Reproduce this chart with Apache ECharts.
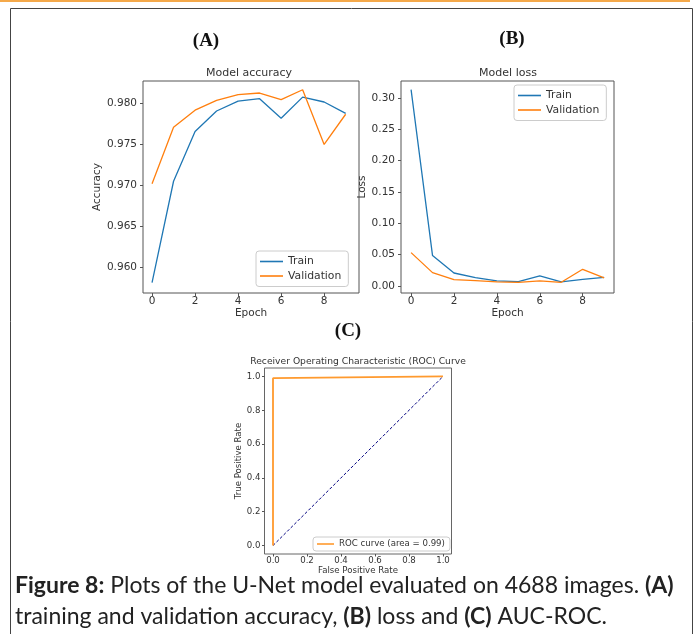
<!DOCTYPE html>
<html>
<head>
<meta charset="utf-8">
<title>U-Net model plots</title>
<script src="https://cdn.jsdelivr.net/npm/echarts@6/dist/echarts.min.js"></script>
<style>
    html, body { margin: 0; padding: 0; background: #fff; }
    #main { width: 697px; height: 634px; }
</style>
</head>
<body>
<div id="main"></div>
<script>
    // values
    var epochs = [0, 1, 2, 3, 4, 5, 6, 7, 8, 9];
    var accTrain = [0.9581, 0.9705, 0.9766, 0.9791, 0.9803, 0.9806, 0.9782, 0.9808, 0.9802, 0.9788];
    var accVal = [0.9702, 0.9771, 0.9792, 0.9804, 0.9811, 0.9813, 0.9805, 0.9817, 0.9750, 0.9787];
    var lossTrain = [0.3133, 0.0485, 0.0207, 0.0133, 0.0080, 0.0069, 0.0160, 0.0064, 0.0106, 0.0138];
    var lossVal = [0.0532, 0.0213, 0.0101, 0.0085, 0.0064, 0.0059, 0.0080, 0.0059, 0.0266, 0.0128];
    var rocFpr = [0, 0, 1];
    var rocTpr = [0, 0.99, 1];
    var chanceFpr = [0, 1];
    var chanceTpr = [0, 1];

    var epochTicks = [0, 2, 4, 6, 8];
    var accTicks = [0.960, 0.965, 0.970, 0.975, 0.980];
    var lossTicks = [0, 0.05, 0.10, 0.15, 0.20, 0.25, 0.30];
    var rateTicks = [0, 0.2, 0.4, 0.6, 0.8, 1.0];

    function pairs(xs, ys) {
        return xs.map(function (x, i) { return [x, ys[i]]; });
    }

    var FONT = 'DejaVu Sans';
    var TXT = '#333';
    var BLUE = '#1f77b4';
    var ORANGE = '#ff7f0e';
    var ROC = '#ff9a2e';

    function axis(opt) {
        return {
            type: 'value',
            gridIndex: opt.grid,
            min: opt.min,
            max: opt.max,
            name: opt.name,
            nameLocation: 'middle',
            nameGap: opt.nameGap,
            nameTextStyle: { fontFamily: FONT, fontSize: opt.fs, color: TXT },
            axisLine: { show: false, onZero: false },
            axisTick: { show: true, customValues: opt.ticks, length: opt.tickLen, lineStyle: { color: '#555', width: 1 } },
            axisLabel: {
                customValues: opt.ticks,
                margin: opt.margin,
                fontFamily: FONT,
                fontSize: opt.fs,
                color: TXT,
                formatter: function (v) { return v.toFixed(opt.dec); }
            },
            splitLine: { show: false }
        };
    }

    function legendBox(names, left, top, fs, pad, gap, w) {
        return {
            data: names.map(function (n) { return { name: n, icon: 'rect' }; }),
            left: left, top: top, orient: 'vertical',
            padding: pad, itemWidth: w, itemHeight: 1.6, itemGap: gap,
            backgroundColor: 'rgba(255,255,255,0.8)', borderColor: '#ccc', borderWidth: 1, borderRadius: 3,
            textStyle: { fontFamily: FONT, fontSize: fs, color: TXT }
        };
    }

    var myChart = echarts.init(document.getElementById('main'), null, { renderer: 'canvas' });

    var option = {
        animation: false,
        backgroundColor: '#fff',
        grid: [
            { left: 143, top: 81, width: 216, height: 212, show: true, borderColor: '#555', borderWidth: 1, outerBoundsMode: 'none' },
            { left: 401, top: 81, width: 213, height: 212, show: true, borderColor: '#555', borderWidth: 1, outerBoundsMode: 'none' },
            { left: 264.5, top: 368, width: 187, height: 186, show: true, borderColor: '#666', borderWidth: 1, outerBoundsMode: 'none' }
        ],
        xAxis: [
            axis({ grid: 0, min: -0.42, max: 9.62, ticks: epochTicks, dec: 0, name: 'Epoch', nameGap: 15, fs: 10.5, tickLen: 3, margin: 3 }),
            axis({ grid: 1, min: -0.47, max: 9.46, ticks: epochTicks, dec: 0, name: 'Epoch', nameGap: 15, fs: 10.5, tickLen: 3, margin: 3 }),
            axis({ grid: 2, min: -0.05, max: 1.05, ticks: rateTicks, dec: 1, name: 'False Positive Rate', nameGap: 12, fs: 8.6, tickLen: 2.5, margin: 2 })
        ],
        yAxis: [
            axis({ grid: 0, min: 0.95682, max: 0.98277, ticks: accTicks, dec: 3, name: 'Accuracy', nameGap: 32, fs: 10.5, tickLen: 3, margin: 6 }),
            axis({ grid: 1, min: -0.0112, max: 0.3271, ticks: lossTicks, dec: 2, name: 'Loss', nameGap: 29, fs: 10.5, tickLen: 3, margin: 6 }),
            axis({ grid: 2, min: -0.05, max: 1.05, ticks: rateTicks, dec: 1, name: 'True Positive Rate', nameGap: 14, fs: 8.6, tickLen: 2.5, margin: 4 })
        ],
        legend: [
            legendBox(['Train', 'Validation'], 256, 251, 10.8, [5, 7, 5, 4], 3.5, 23),
            legendBox(['Train', 'Validation'], 514, 85, 10.8, [5, 7, 5, 4], 3.5, 23),
            legendBox(['ROC curve (area = 0.99)'], 313, 537, 8.6, [2.5, 5, 2.5, 4], 0, 17)
        ],
        series: [
            { name: 'Train', type: 'line', xAxisIndex: 0, yAxisIndex: 0, data: pairs(epochs, accTrain), symbol: 'none', lineStyle: { color: BLUE, width: 1.3 }, itemStyle: { color: BLUE } },
            { name: 'Validation', type: 'line', xAxisIndex: 0, yAxisIndex: 0, data: pairs(epochs, accVal), symbol: 'none', lineStyle: { color: ORANGE, width: 1.3 }, itemStyle: { color: ORANGE } },
            { name: 'Train', type: 'line', xAxisIndex: 1, yAxisIndex: 1, data: pairs(epochs, lossTrain), symbol: 'none', lineStyle: { color: BLUE, width: 1.3 }, itemStyle: { color: BLUE } },
            { name: 'Validation', type: 'line', xAxisIndex: 1, yAxisIndex: 1, data: pairs(epochs, lossVal), symbol: 'none', lineStyle: { color: ORANGE, width: 1.3 }, itemStyle: { color: ORANGE } },
            { name: 'chance', type: 'line', xAxisIndex: 2, yAxisIndex: 2, data: pairs(chanceFpr, chanceTpr), symbol: 'none', lineStyle: { color: '#000080', width: 1, type: [3, 2] } },
            { name: 'ROC curve (area = 0.99)', type: 'line', xAxisIndex: 2, yAxisIndex: 2, data: pairs(rocFpr, rocTpr), symbol: 'none', lineStyle: { color: ROC, width: 1.8 }, itemStyle: { color: ROC } }
        ],
        graphic: [
            { type: 'rect', shape: { x: 0, y: 0, width: 690, height: 2 }, style: { fill: '#f5a94a' } },
            { type: 'rect', shape: { x: 10.5, y: 8.5, width: 682, height: 700 }, style: { fill: 'none', stroke: '#444', lineWidth: 1 } },
            { type: 'text', x: 206, y: 41, style: { text: '(A)', font: 'bold 19px "Liberation Serif"', fill: '#111', align: 'center', verticalAlign: 'middle' } },
            { type: 'text', x: 512, y: 39, style: { text: '(B)', font: 'bold 19px "Liberation Serif"', fill: '#111', align: 'center', verticalAlign: 'middle' } },
            { type: 'text', x: 348, y: 331, style: { text: '(C)', font: 'bold 19px "Liberation Serif"', fill: '#111', align: 'center', verticalAlign: 'middle' } },
            { type: 'text', x: 249, y: 73, style: { text: 'Model accuracy', font: '11px "DejaVu Sans"', fill: TXT, align: 'center', verticalAlign: 'middle' } },
            { type: 'text', x: 508, y: 73, style: { text: 'Model loss', font: '11px "DejaVu Sans"', fill: TXT, align: 'center', verticalAlign: 'middle' } },
            { type: 'text', x: 358, y: 362, style: { text: 'Receiver Operating Characteristic (ROC) Curve', font: '9.2px "DejaVu Sans"', fill: TXT, align: 'center', verticalAlign: 'middle' } },
            {
                type: 'text', x: 15, y: 586,
                style: {
                    text: '{f|Figure 8:} Plots of the U-Net model evaluated on 4688 images. {b|(A)}',
                    font: '23px Lato', fill: '#222', verticalAlign: 'middle',
                    rich: {
                        f: { fontFamily: 'Lato', fontSize: 23, fontWeight: 'bold', color: '#8e2163' },
                        b: { fontFamily: 'Lato', fontSize: 23, fontWeight: 'bold', color: '#222' }
                    }
                }
            },
            {
                type: 'text', x: 15, y: 617,
                style: {
                    text: 'training and validation accuracy, {b|(B)} loss and {b|(C)} AUC-ROC.',
                    font: '23px Lato', fill: '#222', verticalAlign: 'middle',
                    rich: {
                        b: { fontFamily: 'Lato', fontSize: 23, fontWeight: 'bold', color: '#222' }
                    }
                }
            }
        ]
    };

    myChart.setOption(option);
</script>
</body>
</html>
